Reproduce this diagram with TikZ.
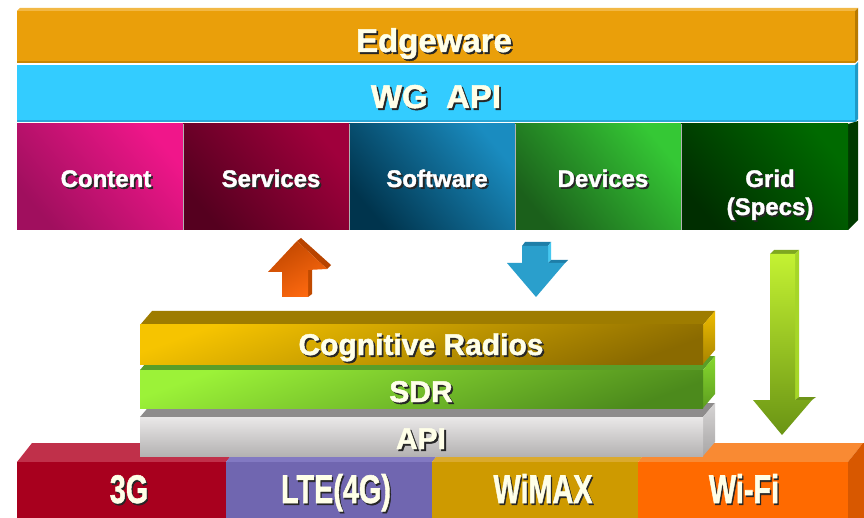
\documentclass[tikz,border=0pt]{standalone}
\usepackage{fontspec}
\setmainfont{Liberation Sans}[BoldFeatures={FakeBold=1.5}]
\definecolor{cream}{HTML}{FFFFE8}
\definecolor{shd}{HTML}{262626}
% Edgeware / WG API
\definecolor{edTop}{HTML}{F2B845}\definecolor{edSide}{HTML}{B87A00}\definecolor{edFront}{HTML}{EA9F0A}\definecolor{edEdge}{HTML}{C98600}
\definecolor{wgSide}{HTML}{1E9AC8}\definecolor{wgFront}{HTML}{33CCFF}\definecolor{wgEdge}{HTML}{2AA6D6}
% row boxes
\definecolor{gridSide}{HTML}{003A00}
\definecolor{conA}{HTML}{F0168A}\definecolor{conB}{HTML}{A00F5E}
\definecolor{serA}{HTML}{A0003C}\definecolor{serB}{HTML}{55001F}
\definecolor{sofA}{HTML}{1A8CC0}\definecolor{sofB}{HTML}{00344D}
\definecolor{devA}{HTML}{35C835}\definecolor{devB}{HTML}{1B601B}
\definecolor{griA}{HTML}{006A00}\definecolor{griB}{HTML}{002E00}
% arrows
\definecolor{orTop}{HTML}{B84400}\definecolor{orSide}{HTML}{C04A00}\definecolor{orA}{HTML}{C24800}\definecolor{orB}{HTML}{FF6A10}
\definecolor{blTop}{HTML}{1E7EA8}\definecolor{blSide}{HTML}{46C8F0}\definecolor{blFront}{HTML}{2A9FCC}
\definecolor{grTop}{HTML}{7FA820}\definecolor{grSide}{HTML}{A6D628}\definecolor{grWing}{HTML}{6E9418}\definecolor{grA}{HTML}{C4F232}\definecolor{grB}{HTML}{6A9414}
% bottom row
\definecolor{tgTop}{HTML}{C0304A}\definecolor{tgFront}{HTML}{A8001E}
\definecolor{ltTop}{HTML}{8279C2}\definecolor{ltFront}{HTML}{7066B0}
\definecolor{wmTop}{HTML}{DAAA2E}\definecolor{wmFront}{HTML}{CE9A00}
\definecolor{wfTop}{HTML}{F98A33}\definecolor{wfFront}{HTML}{FF6A00}\definecolor{wfSide}{HTML}{D85800}
% stack
\definecolor{apTop}{HTML}{8E8C8C}\definecolor{apSA}{HTML}{D6D4D4}\definecolor{apSB}{HTML}{A8A6A6}\definecolor{apFA}{HTML}{EAE8E8}\definecolor{apFB}{HTML}{B4B2B2}
\definecolor{sdTop}{HTML}{5A9E28}\definecolor{sdSA}{HTML}{86D82E}\definecolor{sdSB}{HTML}{5E9E20}\definecolor{sdFA}{HTML}{9CF238}\definecolor{sdFB}{HTML}{4C8A1C}
\definecolor{crTop}{HTML}{9E7C00}\definecolor{crSA}{HTML}{EEBC00}\definecolor{crSB}{HTML}{A88400}\definecolor{crFA}{HTML}{F6C400}\definecolor{crFB}{HTML}{8A6A00}
\newcommand{\shtxt}[1]{\makebox[0pt][l]{\kern1.8pt\raisebox{-1.8pt}{\textcolor{shd}{#1}}}#1}
\tikzset{
  lbl/.style={text=cream, font=\bfseries, inner sep=0pt, anchor=base},
  boxlbl/.style={lbl, font=\fontsize{24}{28}\selectfont\bfseries, text=white},
  toplbl/.style={lbl, font=\fontsize{33}{36}\selectfont\bfseries},
  stklbl/.style={lbl, font=\fontsize{30}{34}\selectfont\bfseries},
  botlbl/.style={lbl, font=\fontsize{40}{44}\selectfont\bfseries},
}
\begin{document}
\begin{tikzpicture}[x=1pt,y=-1pt]
\useasboundingbox (0,0) rectangle (864,518);
\fill[white] (0,0) rectangle (864,518);

% ---------- Edgeware bar
\fill[edTop] (17,11) -- (20,8) -- (858,8) -- (855,11) -- cycle;
\fill[edSide] (855,11) -- (858,8) -- (858,60) -- (855,63) -- cycle;
\fill[edFront] (17,11) rectangle (855,63);
\fill[edEdge] (17,61.5) rectangle (855,63.5);
\node[toplbl] (edge) at (434,52) {\shtxt{Edgeware}};

% ---------- WG API bar
\fill[wgSide] (855,65) -- (858,62) -- (858,119) -- (855,122) -- cycle;
\fill[wgFront] (17,65) rectangle (855,122);
\fill[wgEdge] (17,120) rectangle (855,122.5);
\node[toplbl] (wgapi) at (436,108) {\shtxt{WG\ \ API}};

% ---------- row of five boxes
\fill[gridSide] (848,124) -- (858,121) -- (858,220) -- (848,230) -- cycle;
\shade[top color=conA, bottom color=conB, shading angle=-50] (17,124) rectangle (183,230);
\shade[top color=serA, bottom color=serB, shading angle=-50] (183,124) rectangle (349,230);
\shade[top color=sofA, bottom color=sofB, shading angle=-50] (349,124) rectangle (515,230);
\shade[top color=devA, bottom color=devB, shading angle=-50] (515,124) rectangle (681,230);
\shade[top color=griA, bottom color=griB, shading angle=-50] (681,124) rectangle (848,230);
\draw[white!70!black, line width=0.4pt] (183,124) -- (183,230) (349,124) -- (349,230) (515,124) -- (515,230) (681,124) -- (681,230);
\node[boxlbl] (content) at (106,187) {\shtxt{Content}};
\node[boxlbl] (services) at (271,187) {\shtxt{Services}};
\node[boxlbl] (software) at (437,187) {\shtxt{Software}};
\node[boxlbl] (devices) at (603,187) {\shtxt{Devices}};
\node[boxlbl] (grid) at (770,187) {\shtxt{Grid}};
\node[boxlbl] (specs) at (770,215) {\shtxt{(Specs)}};

% ---------- orange up arrow
\fill[orTop] (297,241) -- (301,238) -- (331,265) -- (327,269) -- cycle;
\fill[orSide] (308,270) -- (312,267) -- (312,294) -- (308,297) -- cycle;
\shade[top color=orA, bottom color=orB, shading angle=30]
  (297,241) -- (327,269) -- (308,270) -- (308,297) -- (282,297) -- (282,272) -- (268,272) -- cycle;

% ---------- blue down arrow
\fill[blTop] (522,246) -- (525,242) -- (551,242) -- (548,246) -- cycle;
\fill[blSide] (548,246) -- (551,242) -- (551,260) -- (548,263) -- cycle;
\fill[blTop] (548,263) -- (551,260) -- (568,260) -- (565,263) -- cycle;
\fill[blFront] (522,246) -- (548,246) -- (548,263) -- (565,263) -- (536,297) -- (507,263) -- (522,263) -- cycle;

% ---------- green down arrow
\fill[grTop] (770,254) -- (774,250) -- (799,250) -- (795,254) -- cycle;
\fill[grSide] (795,254) -- (799,250) -- (799,397) -- (795,400) -- cycle;
\fill[grWing] (795,400) -- (799,397) -- (816,397) -- (812,400) -- cycle;
\shade[top color=grA, bottom color=grB]
  (770,254) -- (795,254) -- (795,400) -- (812,400) -- (782,435) -- (753,400) -- (770,400) -- cycle;

% ---------- bottom row
\fill[tgTop] (17,462) -- (32,443) -- (241,443) -- (226,462) -- cycle;
\fill[ltTop] (226,462) -- (241,443) -- (447,443) -- (432,462) -- cycle;
\fill[wmTop] (432,462) -- (447,443) -- (653,443) -- (638,462) -- cycle;
\fill[wfTop] (638,462) -- (653,443) -- (863,443) -- (848,462) -- cycle;
\fill[wfSide] (848,462) -- (863,443) -- (864,443) -- (864,518) -- (848,518) -- cycle;
\fill[tgFront] (17,462) rectangle (226,518);
\fill[ltFront] (226,462) rectangle (432,518);
\fill[wmFront] (432,462) rectangle (638,518);
\fill[wfFront] (638,462) rectangle (848,518);
\node[botlbl] (g3) at (129,503) {\scalebox{0.72}[1]{\shtxt{3G}}};
\node[botlbl] (lte) at (336,503) {\scalebox{0.72}[1]{\shtxt{LTE(4G)}}};
\node[botlbl] (wimax) at (543,503) {\scalebox{0.72}[1]{\shtxt{WiMAX}}};
\node[botlbl] (wifi) at (744,503) {\scalebox{0.72}[1]{\shtxt{Wi-Fi}}};

% ---------- stack: API
\fill[apTop] (140,417) -- (152,403) -- (715,403) -- (703,417) -- cycle;
\shade[top color=apSA, bottom color=apSB] (703,417) -- (715,403) -- (715,442) -- (703,456) -- cycle;
\shade[top color=apFA, bottom color=apFB] (140,417) rectangle (703,456);
\node[stklbl] (api) at (421,449) {\shtxt{API}};

% ---------- stack: SDR
\fill[sdTop] (140,370) -- (152,356) -- (715,356) -- (703,370) -- cycle;
\shade[top color=sdSA, bottom color=sdSB] (703,370) -- (715,356) -- (715,394) -- (703,408) -- cycle;
\shade[top color=sdFA, bottom color=sdFB, shading angle=20] (140,370) rectangle (703,408);
\node[stklbl] (sdr) at (421,402) {\shtxt{SDR}};

% ---------- stack: Cognitive Radios
\fill[crTop] (140,325) -- (152,311) -- (715,311) -- (703,325) -- cycle;
\shade[top color=crSA, bottom color=crSB] (703,325) -- (715,311) -- (715,350) -- (703,364) -- cycle;
\shade[top color=crFA, bottom color=crFB, shading angle=20] (140,325) rectangle (703,364);
\node[stklbl] (cr) at (421,355) {\shtxt{Cognitive Radios}};
\end{tikzpicture}
\end{document}
